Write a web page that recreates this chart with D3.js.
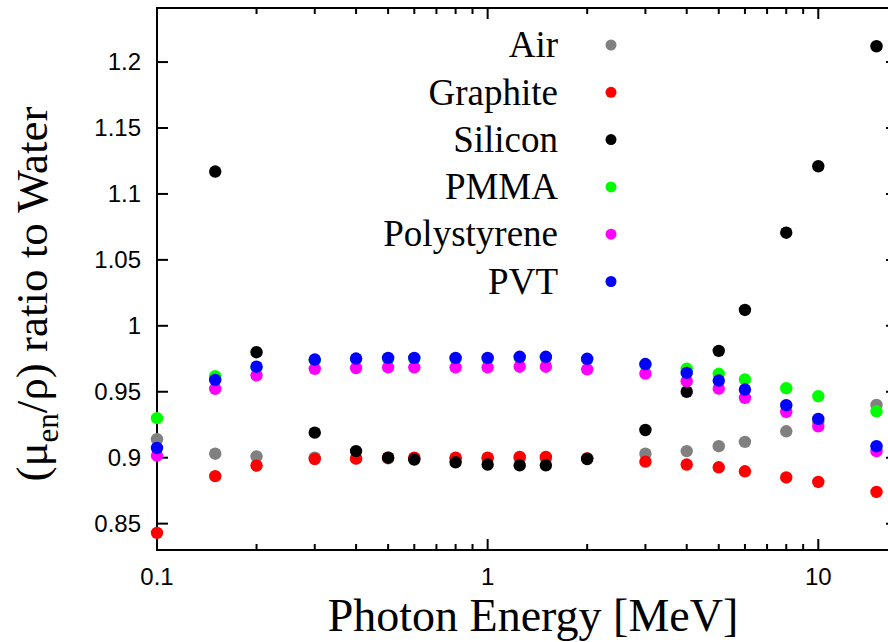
<!DOCTYPE html>
<html>
<head>
<meta charset="utf-8">
<script src="https://cdn.jsdelivr.net/npm/d3@7"></script>
<style>
  html, body { margin: 0; padding: 0; background: #fff; overflow: hidden; }
  svg { display: block; }
</style>
</head>
<body>
<svg id="chart" width="888" height="642"></svg>
<script>
// Photon energies (MeV)
const energies = [0.1, 0.15, 0.2, 0.3, 0.4, 0.5, 0.6, 0.8, 1, 1.25, 1.5, 2, 3, 4, 5, 6, 8, 10, 15];

// Mass energy-absorption coefficient ratios relative to water
const air         = [0.914, 0.903, 0.901, 0.900, 0.8995, 0.8995, 0.8995, 0.8995, 0.8995, 0.8995, 0.8995, 0.8995, 0.903, 0.905, 0.9087, 0.912, 0.920, 0.927, 0.940];
const graphite    = [0.843, 0.886, 0.894, 0.899, 0.8993, 0.900, 0.900, 0.900, 0.900, 0.9006, 0.9006, 0.8995, 0.897, 0.8948, 0.8927, 0.8897, 0.885, 0.8816, 0.874];
const silicon     = [null, 1.117, 0.980, 0.919, 0.905, 0.900, 0.8986, 0.8965, 0.8948, 0.8942, 0.8942, 0.899, 0.921, 0.950, 0.981, 1.012, 1.0706, 1.121, 1.212];
const pmma        = [0.930, 0.9618, 0.9685, 0.974, 0.9748, 0.975, 0.975, 0.975, 0.975, 0.976, 0.976, 0.9745, 0.9705, 0.9674, 0.9636, 0.9593, 0.9527, 0.9466, 0.9352];
const polystyrene = [0.9016, 0.9522, 0.9625, 0.9674, 0.968, 0.9685, 0.9685, 0.9685, 0.9685, 0.969, 0.969, 0.967, 0.9638, 0.958, 0.9524, 0.9454, 0.9347, 0.9238, 0.9049];
const pvt         = [0.9074, 0.959, 0.969, 0.9744, 0.9752, 0.9757, 0.9757, 0.9757, 0.9757, 0.9765, 0.9765, 0.975, 0.971, 0.9643, 0.9585, 0.9517, 0.9398, 0.9294, 0.9087];

const seriesNames  = ["Air", "Graphite", "Silicon", "PMMA", "Polystyrene", "PVT"];
const seriesValues = [air, graphite, silicon, pmma, polystyrene, pvt];
const seriesColors = ["#808080", "#ff0000", "#000000", "#00ff00", "#ff00ff", "#0000ff"];

const xTickValues = [0.1, 1, 10];
const xTickLabels = ["0.1", "1", "10"];
const yTickValues = [0.85, 0.9, 0.95, 1, 1.05, 1.1, 1.15, 1.2];
const yTickLabels = ["0.85", "0.9", "0.95", "1", "1.05", "1.1", "1.15", "1.2"];
const xDomain = [0.1, 17.3];
const yDomain = [0.83, 1.241];

const svg = d3.select("#chart");
const plotLeft = 157, plotRight = 897, plotTop = 8, plotBottom = 550;

const x = d3.scaleLog().domain(xDomain).range([plotLeft, plotRight]);
const y = d3.scaleLinear().domain(yDomain).range([plotBottom, plotTop]);

const sansFont = "'Liberation Sans', Arial, Helvetica, sans-serif";
const serifFont = "'Liberation Serif', 'Times New Roman', Times, serif";

// Minor ticks on the log axis
const minorX = [];
[0.1, 1, 10].forEach(d => { for (let k = 2; k <= 9; k++) { const v = d * k; if (v < xDomain[1]) minorX.push(v); } });

const axes = svg.append("g").attr("stroke", "#000").attr("stroke-width", 2);

// Frame
axes.append("rect")
  .attr("x", plotLeft).attr("y", plotTop)
  .attr("width", plotRight - plotLeft).attr("height", plotBottom - plotTop)
  .attr("fill", "none");

// X ticks (bottom and top, pointing inward)
xTickValues.forEach(v => {
  axes.append("line").attr("x1", x(v)).attr("x2", x(v)).attr("y1", plotBottom).attr("y2", plotBottom - 11);
  axes.append("line").attr("x1", x(v)).attr("x2", x(v)).attr("y1", plotTop).attr("y2", plotTop + 11);
});
minorX.forEach(v => {
  axes.append("line").attr("x1", x(v)).attr("x2", x(v)).attr("y1", plotBottom).attr("y2", plotBottom - 6);
  axes.append("line").attr("x1", x(v)).attr("x2", x(v)).attr("y1", plotTop).attr("y2", plotTop + 6);
});

// Y ticks (left and right, pointing inward)
yTickValues.forEach(v => {
  axes.append("line").attr("x1", plotLeft).attr("x2", plotLeft + 11).attr("y1", y(v)).attr("y2", y(v));
  axes.append("line").attr("x1", plotRight).attr("x2", plotRight - 11).attr("y1", y(v)).attr("y2", y(v));
});

// Tick labels
svg.append("g").selectAll("text").data(xTickValues).join("text")
  .attr("x", d => x(d)).attr("y", 585)
  .attr("text-anchor", "middle")
  .attr("font-family", sansFont).attr("font-size", 24)
  .text((d, i) => xTickLabels[i]);

svg.append("g").selectAll("text").data(yTickValues).join("text")
  .attr("x", 141).attr("y", d => y(d))
  .attr("dy", "0.35em")
  .attr("text-anchor", "end")
  .attr("font-family", sansFont).attr("font-size", 24)
  .text((d, i) => yTickLabels[i]);

// Data points
const pts = svg.append("g");
seriesValues.forEach((vals, si) => {
  const data = energies.map((e, i) => ({ e, v: vals[i] })).filter(d => d.v !== null);
  pts.append("g").selectAll("circle").data(data).join("circle")
    .attr("cx", d => x(d.e)).attr("cy", d => y(d.v))
    .attr("r", 6.2)
    .attr("fill", seriesColors[si]);
});

// Legend
const legend = svg.append("g");
seriesNames.forEach((name, i) => {
  const ly = 45 + i * 47.3;
  legend.append("text")
    .attr("x", 558).attr("y", ly)
    .attr("dy", "0.33em")
    .attr("text-anchor", "end")
    .attr("font-family", serifFont).attr("font-size", 37)
    .text(name);
  legend.append("circle")
    .attr("cx", 611).attr("cy", ly).attr("r", 5.5)
    .attr("fill", seriesColors[i]);
});

// Axis titles
svg.append("text")
  .attr("x", 533).attr("y", 631)
  .attr("text-anchor", "middle")
  .attr("font-family", serifFont).attr("font-size", 46)
  .text("Photon Energy [MeV]");

const yt = svg.append("text")
  .attr("transform", "translate(47,294) rotate(-90)")
  .attr("text-anchor", "middle")
  .attr("font-family", serifFont).attr("font-size", 45);
yt.append("tspan").text("(μ");
yt.append("tspan").attr("font-size", 31).attr("dy", 11).text("en");
yt.append("tspan").attr("dy", -11).text("/ρ) ratio to Water");
</script>
</body>
</html>
